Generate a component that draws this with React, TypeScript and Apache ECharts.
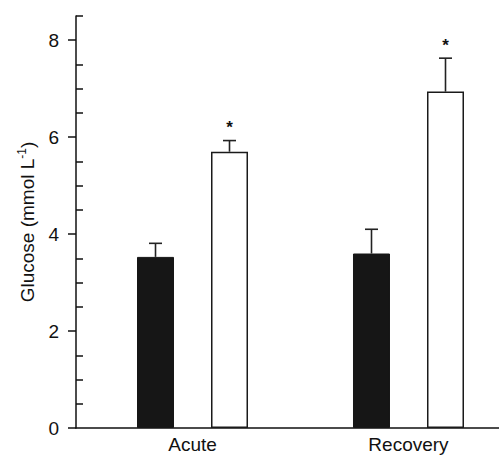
import React, { useEffect, useRef } from "react";
import * as echarts from "echarts";

const categories = ["Acute", "Recovery"];
const controlMean = [3.53, 3.6];
const controlErr = [0.28, 0.5];
const treatedMean = [5.7, 6.94];
const treatedErr = [0.23, 0.69];
const significance = ["*", "*"];
const majorTicks = [0, 2, 4, 6, 8];
const minorTicks = [0.5, 1, 1.5, 2.5, 3, 3.5, 4.5, 5, 5.5, 6.5, 7, 7.5, 8.5];
const categoryPositions = [1, 2];

const BAR_W = 37;
const FONT = "Liberation Sans, Arial, Helvetica, sans-serif";

export default function App() {
  const ref = useRef<HTMLDivElement>(null);
  useEffect(() => {
    if (!ref.current) return;
    const chart = echarts.init(ref.current, undefined, { renderer: "svg" });

    const errRender = (offsetSign: number, withStar: boolean) =>
      (params: any, api: any) => {
        const x = api.value(0);
        const m = api.value(1);
        const e = api.value(2);
        const base = api.coord([x, m]);
        const top = api.coord([x, m + e]);
        const cx = base[0] + offsetSign * BAR_W;
        const children: any[] = [
          {
            type: "line",
            shape: { x1: cx, y1: base[1], x2: cx, y2: top[1] },
            style: { stroke: "#222", lineWidth: 1.6 },
          },
          {
            type: "line",
            shape: { x1: cx - 6.5, y1: top[1], x2: cx + 6.5, y2: top[1] },
            style: { stroke: "#222", lineWidth: 1.6 },
          },
        ];
        const sig = withStar ? significance[params.dataIndex] : "";
        if (sig) {
          children.push({
            type: "text",
            style: {
              text: sig,
              x: cx,
              y: top[1] - 13,
              textAlign: "center",
              textVerticalAlign: "middle",
              font: `bold 17px ${FONT}`,
              fill: "#111",
            },
          });
        }
        return { type: "group", children };
      };

    chart.setOption({
      animation: false,
      backgroundColor: "#fff",
      grid: { left: 76, right: 0, top: 16, bottom: 28, containLabel: false },
      xAxis: {
        type: "value",
        min: 0.4606,
        max: 2.419,
        splitLine: { show: false },
        axisLine: { show: true, onZero: false, lineStyle: { color: "#111", width: 1.5 } },
        axisTick: { show: false },
        axisLabel: {
          customValues: categoryPositions,
          formatter: (v: number) => categories[Math.round(v) - 1] ?? "",
          fontFamily: FONT,
          fontSize: 19,
          color: "#111",
          margin: 7,
        },
      },
      yAxis: [
        {
          type: "value",
          min: 0,
          max: 8.5,
          position: "left",
          splitLine: { show: false },
          axisLine: { show: true, lineStyle: { color: "#111", width: 1.5 } },
          axisTick: {
            show: true,
            inside: false,
            length: 8,
            customValues: majorTicks,
            lineStyle: { color: "#111", width: 1.5 },
          },
          axisLabel: {
            customValues: majorTicks,
            fontFamily: FONT,
            fontSize: 19,
            color: "#111",
            margin: 17,
          },
          name: "{a|Glucose (mmol L}{s|-1}{a|)}",
          nameLocation: "middle",
          nameGap: 37,
          nameTextStyle: {
            fontFamily: FONT,
            rich: {
              a: { fontFamily: FONT, fontSize: 19, color: "#111", lineHeight: 23 },
              s: {
                fontFamily: FONT,
                fontSize: 12,
                color: "#111",
                verticalAlign: "top",
                lineHeight: 23,
                padding: [0, 0, 9, 0],
              },
            },
          },
        },
        {
          type: "value",
          min: 0,
          max: 8.5,
          position: "left",
          splitLine: { show: false },
          axisLine: { show: false },
          axisLabel: { show: false },
          axisTick: {
            show: true,
            inside: true,
            length: 7,
            customValues: minorTicks,
            lineStyle: { color: "#111", width: 1.5 },
          },
        },
      ],
      series: [
        {
          type: "bar",
          name: "control",
          barWidth: BAR_W,
          barGap: "100%",
          data: categoryPositions.map((p, i) => [p, controlMean[i]]),
          itemStyle: { color: "#161616", borderColor: "#161616", borderWidth: 1 },
        },
        {
          type: "bar",
          name: "treated",
          barWidth: BAR_W,
          barGap: "100%",
          data: categoryPositions.map((p, i) => [p, treatedMean[i]]),
          itemStyle: { color: "#ffffff", borderColor: "#1a1a1a", borderWidth: 1.5 },
        },
        {
          type: "custom",
          z: 5,
          renderItem: errRender(-1, false),
          data: categoryPositions.map((p, i) => [p, controlMean[i], controlErr[i]]),
        },
        {
          type: "custom",
          z: 5,
          renderItem: errRender(1, true),
          data: categoryPositions.map((p, i) => [p, treatedMean[i], treatedErr[i]]),
        },
      ],
    });
    return () => chart.dispose();
  }, []);
  return (
    <div
      ref={ref}
      style={{ position: "absolute", left: 0, top: 0, width: 499, height: 456 }}
    />
  );
}
